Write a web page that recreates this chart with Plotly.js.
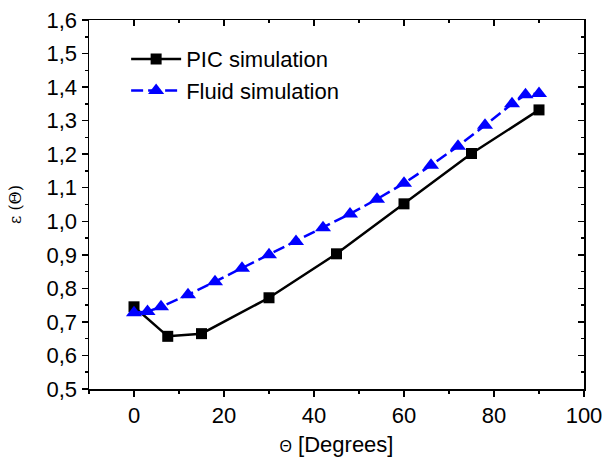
<!DOCTYPE html>
<html><head><meta charset="utf-8">
<script src="https://cdn.plot.ly/plotly-3.0.1.min.js"></script>
<style>body{margin:0;background:#fff}#c{width:604px;height:460px}</style>
</head><body><div id="c"></div>
<script>
const picTheta = [0, 7.5, 15, 30, 45, 60, 75, 90];
const picEps = [0.745, 0.657, 0.665, 0.772, 0.903, 1.052, 1.202, 1.332];
const fluidTheta = [0, 3, 6, 12, 18, 24, 30, 36, 42, 48, 54, 60, 66, 72, 78, 84, 87, 90];
const fluidEps = [0.727, 0.731, 0.745, 0.781, 0.820, 0.860, 0.900, 0.940, 0.981, 1.022, 1.066, 1.113, 1.167, 1.224, 1.286, 1.350, 1.377, 1.381];

const F = 'Liberation Sans, Arial, sans-serif';
const traces = [
  {x: picTheta, y: picEps, name: 'PIC simulation', mode: 'lines+markers',
   line: {color: '#000', width: 2.5}, marker: {symbol: 'square', size: 11, color: '#000'}},
  {x: fluidTheta, y: fluidEps, name: 'Fluid simulation', mode: 'lines+markers',
   line: {color: '#0000ff', width: 2.5, dash: '12px,5px'}, marker: {symbol: 'triangle-up', size: 14, color: '#0000ff'}},
  {x: [0], y: [1], xaxis: 'x2', yaxis: 'y2', mode: 'markers', marker: {opacity: 0}, showlegend: false, hoverinfo: 'skip'}
];
const common = {showgrid: false, zeroline: false, showline: true, linecolor: '#000', linewidth: 1.5,
  tickcolor: '#000', tickwidth: 1.5, ticklen: 6, tickfont: {family: F, size: 22, color: '#000'}};
const layout = {
  width: 604, height: 460, separators: ', ',
  margin: {l: 89, r: 20, t: 20, b: 71},
  paper_bgcolor: '#fff', plot_bgcolor: '#fff',
  font: {family: F, color: '#000'},
  xaxis: Object.assign({}, common, {range: [-10, 100], dtick: 20, tick0: 0, ticks: 'outside',
    minor: {ticks: 'outside', ticklen: 3, dtick: 10, tickcolor: '#000', tickwidth: 1.5},
    title: {text: '<span style="font-size:16px">Θ</span> [Degrees]', font: {family: F, size: 22}, standoff: 9}}),
  yaxis: Object.assign({}, common, {range: [0.5, 1.6], dtick: 0.1, tick0: 0.5, ticks: 'outside', tickformat: '.1f',
    minor: {ticks: 'outside', ticklen: 3, dtick: 0.05, tickcolor: '#000', tickwidth: 1.5},
    title: {text: 'ε (Θ)', font: {family: 'DejaVu Serif, serif', size: 16}, standoff: 21}}),
  xaxis2: Object.assign({}, common, {overlaying: 'x', side: 'top', range: [-10, 100], dtick: 20, tick0: 0,
    ticks: 'inside', showticklabels: false,
    minor: {ticks: 'inside', ticklen: 3, dtick: 10, tickcolor: '#000', tickwidth: 1.5}}),
  yaxis2: Object.assign({}, common, {overlaying: 'y', side: 'right', range: [0.5, 1.6], dtick: 0.1, tick0: 0.5,
    ticks: 'inside', showticklabels: false,
    minor: {ticks: 'inside', ticklen: 3, dtick: 0.05, tickcolor: '#000', tickwidth: 1.5}}),
  legend: {x: 0.075, y: 0.951, xanchor: 'left', yanchor: 'top', bgcolor: 'rgba(0,0,0,0)',
    font: {family: F, size: 22, color: '#000'}, itemwidth: 50, tracegroupgap: 0}
};
Plotly.newPlot('c', traces, layout, {staticPlot: true});
</script></body></html>
